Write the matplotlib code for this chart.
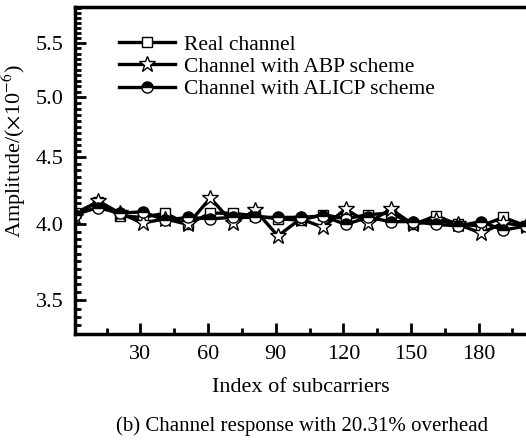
import numpy as np
import matplotlib
matplotlib.use("Agg")
import matplotlib.pyplot as plt
from matplotlib.ticker import FixedLocator, FixedFormatter, NullFormatter

plt.rcParams["font.family"] = ["Liberation Serif", "DejaVu Serif"]
plt.rcParams["mathtext.fontset"] = "stix"

# subcarrier index and amplitude (x1e-6)
idx = [1, 11, 21, 31, 41, 51, 61, 71, 81, 91, 101,
       111, 121, 131, 141, 151, 161, 171, 181, 191, 201]
real_ch = [4.08, 4.16, 4.06, 4.05, 4.08, 4.00, 4.08, 4.08, 4.06, 4.04, 4.03,
           4.07, 4.04, 4.07, 4.08, 4.00, 4.06, 4.00, 3.99, 4.05, 3.99]
abp = [4.05, 4.17, 4.08, 4.01, 4.04, 4.00, 4.19, 4.01, 4.10, 3.92, 4.04,
       3.98, 4.11, 4.01, 4.11, 4.00, 4.03, 4.00, 3.94, 4.01, 3.99]
alicp = [4.07, 4.12, 4.08, 4.09, 4.03, 4.05, 4.04, 4.05, 4.05, 4.05, 4.05,
         4.06, 4.00, 4.05, 4.02, 4.02, 4.00, 3.99, 4.02, 3.96, 3.99]

yticks = [3.5, 4.0, 4.5, 5.0, 5.5]
xticks = [30, 60, 90, 120, 150, 180]

fig = plt.figure(figsize=(5.26, 4.4), dpi=100)
ax = fig.add_axes([0.1426, 0.2409, 0.8574, 0.7432])
ax.set_yscale("log")

lw = 2.4
ax.plot(idx, real_ch, color="black", lw=lw, marker="s", ms=7.5,
        mfc="white", mec="black", mew=1.0, label="Real channel")
ax.plot(idx, abp, color="black", lw=lw, marker="*", ms=12,
        mfc="white", mec="black", mew=1.0, label="Channel with ABP scheme")
ax.plot(idx, alicp, color="black", lw=lw, marker="o", ms=8,
        fillstyle="top", mfc="black", mfcalt="white", mec="black", mew=1.0,
        label="Channel with ALICP scheme")

ax.set_xlim(1, 201)
ax.set_ylim(3.30, 5.86)

ax.xaxis.set_major_locator(FixedLocator(xticks))
ax.xaxis.set_minor_locator(FixedLocator([15, 45, 75, 105, 135, 165, 195]))
ax.yaxis.set_major_locator(FixedLocator(yticks))
ax.yaxis.set_major_formatter(FixedFormatter(["%.1f" % v for v in yticks]))
ax.yaxis.set_minor_locator(FixedLocator(np.arange(3.35, 5.86, 0.05)))
ax.yaxis.set_minor_formatter(NullFormatter())

ax.tick_params(which="both", direction="in", width=2, labelsize=16,
               top=False, right=False)
ax.tick_params(which="major", length=8, pad=8)
ax.tick_params(which="minor", length=4)
for s in ["left", "bottom", "top"]:
    ax.spines[s].set_linewidth(2.5)
ax.spines["right"].set_visible(False)

ax.set_xlabel("Index of subcarriers", fontsize=16, labelpad=10)
ax.set_ylabel(r"Amplitude/($\times$10$^{-6}$)", fontsize=16)
ax.yaxis.set_label_coords(-0.105, 0.56)

ax.legend(loc="upper left", bbox_to_anchor=(0.07, 0.955), frameon=False,
          fontsize=15.5, handlelength=2.6, handletextpad=0.4, labelspacing=0.1,
          borderaxespad=0.2)

fig.text(0.575, 0.02, "(b) Channel response with 20.31% overhead",
         ha="center", fontsize=15)

fig.savefig("out.png", dpi=100)
